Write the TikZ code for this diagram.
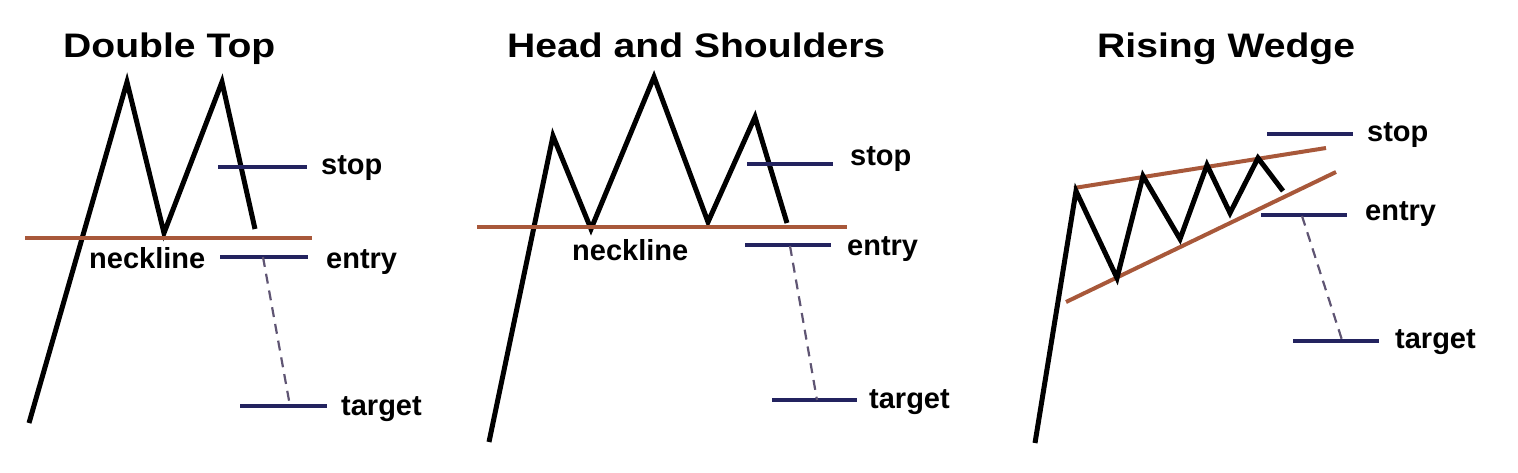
\documentclass[tikz,border=0pt]{standalone}
\usepackage{fontspec}
\setmainfont{Liberation Sans}
\newfontfamily\titlefont[FakeStretch=1.15]{Liberation Sans}
\definecolor{neckbrown}{RGB}{168,88,58}
\definecolor{levelnavy}{RGB}{35,35,95}
\definecolor{dashgrey}{RGB}{95,85,115}
\tikzset{
    price/.style={line width=5pt, black},
    trend/.style={line width=4pt, neckbrown},
    level/.style={line width=3.5pt, levelnavy},
    measure/.style={line width=2.2pt, dashgrey, dash pattern=on 10pt off 7pt},
    lbl/.style={font=\fontsize{29}{34}\selectfont\bfseries, anchor=base west, inner sep=0pt},
    ttl/.style={font=\titlefont\fontsize{34}{40}\selectfont\bfseries, anchor=base west, inner sep=0pt},
}

\begin{document}
\begin{tikzpicture}[x=1pt, y=-1pt]
    \useasboundingbox (0,0) rectangle (1518,472);

    % Double top
    \begin{scope}
        \node[ttl] (dt-title) at (63,57) {Double Top};
        \draw[price] (29,423) -- (127,82) -- (164,233) -- (222,82) -- (255,229);
        \draw[trend] (25,238) -- (312,238);
        \draw[level] (218,167) -- (307,167);
        \draw[level] (220,257) -- (308,257);
        \draw[level] (240,406) -- (327,406);
        \coordinate (dt-entry) at (263,257);
        \coordinate (dt-target) at (290,406);
        \draw[measure] (dt-entry) -- (dt-target);
        \node[lbl] (dt-neck) at (89,268) {neckline};
        \node[lbl] (dt-stop) at (321,174) {stop};
        \node[lbl] (dt-in) at (326,268) {entry};
        \node[lbl] (dt-tgt) at (341,415) {target};
    \end{scope}

    % Head and shoulders
    \begin{scope}[xshift=460pt]
        \node[ttl] (hs-title) at (47,57) {Head and Shoulders};
        \draw[price] (29,442) -- (93,136) -- (131,229) -- (194,77) -- (248,222) -- (295,117) -- (327,223);
        \draw[trend] (17,227) -- (387,227);
        \draw[level] (287,164) -- (373,164);
        \draw[level] (285,245) -- (371,245);
        \draw[level] (312,400) -- (397,400);
        \coordinate (hs-entry) at (330,246);
        \coordinate (hs-target) at (357,400);
        \draw[measure] (hs-entry) -- (hs-target);
        \node[lbl] (hs-neck) at (112,260) {neckline};
        \node[lbl] (hs-stop) at (390,165) {stop};
        \node[lbl] (hs-in) at (387,255) {entry};
        \node[lbl] (hs-tgt) at (409,408) {target};
    \end{scope}

    % Rising wedge
    \begin{scope}[xshift=1000pt]
        \node[ttl] (rw-title) at (97,57) {Rising Wedge};
        \draw[trend] (74,188) -- (326,148);
        \draw[trend] (66,302) -- (336,172);
        \draw[price] (35,443) -- (76,191) -- (117,278) -- (143,176) -- (180,239) -- (207,165) -- (230,213) -- (258,158) -- (283,191);
        \draw[level] (267,134) -- (353,134);
        \draw[level] (261,215) -- (347,215);
        \draw[level] (293,341) -- (379,341);
        \coordinate (rw-entry) at (302,216);
        \coordinate (rw-target) at (342,340);
        \draw[measure] (rw-entry) -- (rw-target);
        \node[lbl] (rw-stop) at (367,141) {stop};
        \node[lbl] (rw-in) at (365,220) {entry};
        \node[lbl] (rw-tgt) at (395,348) {target};
    \end{scope}
\end{tikzpicture}
\end{document}
